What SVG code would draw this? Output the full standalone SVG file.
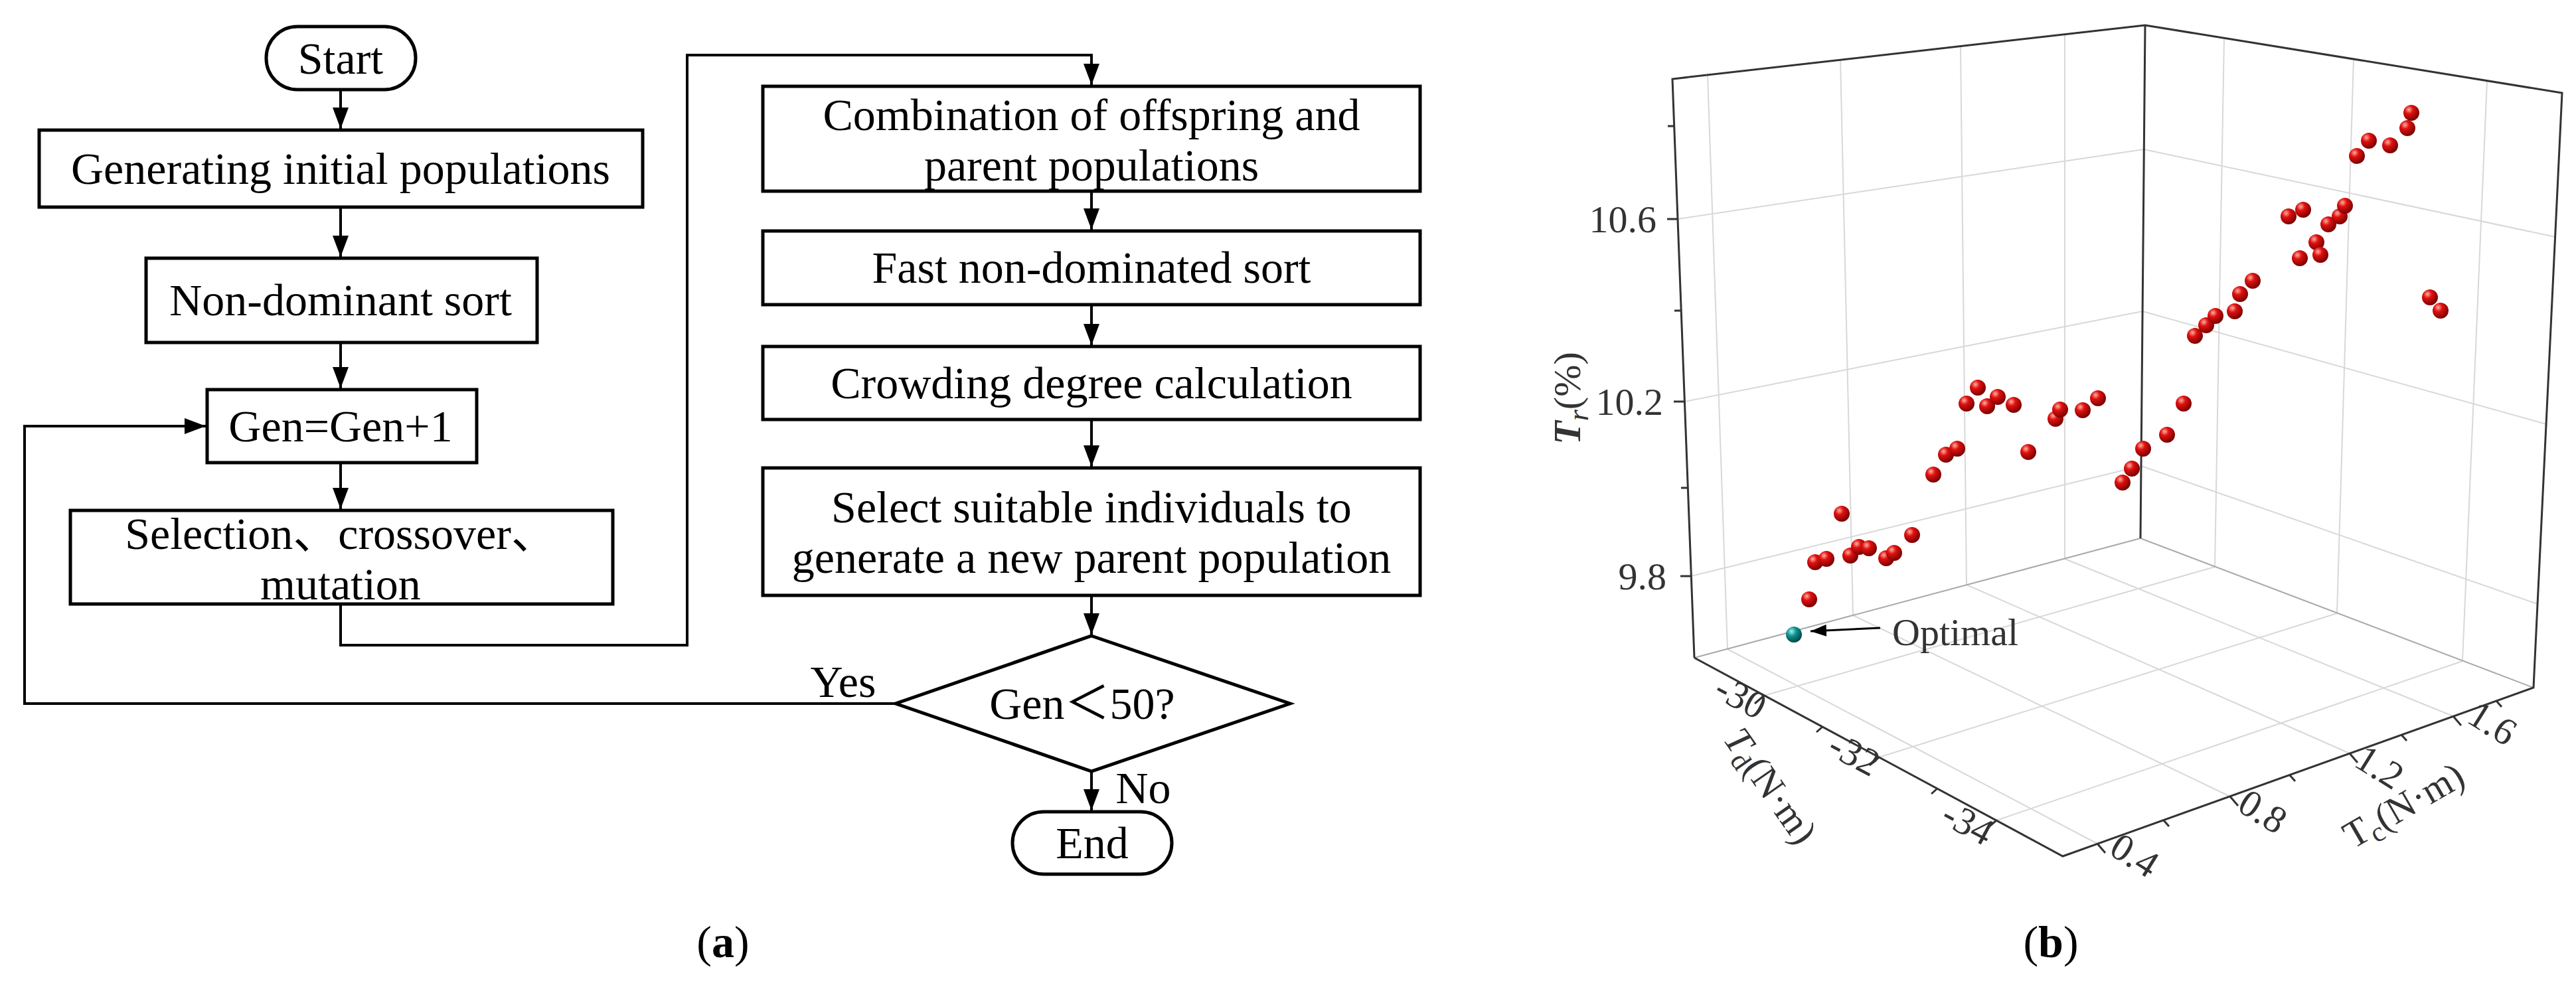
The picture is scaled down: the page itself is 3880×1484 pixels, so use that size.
<svg xmlns="http://www.w3.org/2000/svg" width="3880" height="1484" viewBox="0 0 3880 1484">
<defs>
<marker id="ah" markerWidth="8" markerHeight="6" refX="8" refY="3" orient="auto" markerUnits="strokeWidth">
<path d="M0,0 L8,3 L0,6 z" fill="#000"/>
</marker>
<radialGradient id="rs" cx="0.35" cy="0.3" r="0.75">
<stop offset="0" stop-color="#ffb0a0"/><stop offset="0.35" stop-color="#e01010"/><stop offset="1" stop-color="#700000"/>
</radialGradient>
<radialGradient id="ts" cx="0.35" cy="0.3" r="0.75">
<stop offset="0" stop-color="#a0f0f0"/><stop offset="0.4" stop-color="#109090"/><stop offset="1" stop-color="#004040"/>
</radialGradient>
</defs>
<style>
.b{fill:#fff;stroke:#000;stroke-width:5}
.t{font-family:"Liberation Serif","Noto Sans CJK SC",serif;font-size:68px;text-anchor:middle;fill:#000}
.c{fill:none;stroke:#000;stroke-width:4}
.g{fill:none;stroke:#d8d8d8;stroke-width:2}
.ax{fill:none;stroke:#333;stroke-width:3}
.tk{font-family:"Liberation Serif",serif;font-size:58px;fill:#333}
.r{fill:url(#rs)}
</style>
<rect width="3880" height="1484" fill="#fff"/>

<g id="start"><rect class="b" x="401" y="40" width="225" height="95" rx="47"/><text class="t" x="513" y="111">Start</text></g>
<g id="gen_init"><rect class="b" x="59" y="196" width="909" height="116"/><text class="t" x="513" y="277">Generating initial populations</text></g>
<g id="nondom"><rect class="b" x="220" y="389" width="589" height="127"/><text class="t" x="513" y="475">Non-dominant sort</text></g>
<g id="genplus"><rect class="b" x="312" y="587" width="406" height="110"/><text class="t" x="513" y="665">Gen=Gen+1</text></g>
<g id="selection"><rect class="b" x="106" y="769" width="817" height="141"/><text class="t" x="513" y="827">Selection、crossover、</text><text class="t" x="513" y="903">mutation</text></g>
<g id="combination"><rect class="b" x="1149" y="130" width="990" height="158"/><text class="t" x="1644" y="196">Combination of offspring and</text><text class="t" x="1644" y="272">parent populations</text></g>
<g id="fast"><rect class="b" x="1149" y="348" width="990" height="111"/><text class="t" x="1644" y="426">Fast non-dominated sort</text></g>
<g id="crowding"><rect class="b" x="1149" y="522" width="990" height="110"/><text class="t" x="1644" y="600">Crowding degree calculation</text></g>
<g id="select"><rect class="b" x="1149" y="705" width="990" height="192"/><text class="t" x="1644" y="787">Select suitable individuals to</text><text class="t" x="1644" y="863">generate a new parent population</text></g>
<g id="decision"><path class="b" d="M1644,958 L1943,1060 L1644,1162 L1349,1060 Z"/><text class="t" x="1630" y="1083">Gen＜50?</text></g>
<g id="end"><rect class="b" x="1525" y="1223" width="240" height="94" rx="47"/><text class="t" x="1645" y="1293">End</text></g>

<g id="connectors">
<path class="c" d="M513,135 V194" marker-end="url(#ah)"/>
<path class="c" d="M513,312 V387" marker-end="url(#ah)"/>
<path class="c" d="M513,516 V585" marker-end="url(#ah)"/>
<path class="c" d="M513,697 V767" marker-end="url(#ah)"/>
<path class="c" d="M513,910 V972 H1035 V83 H1644 V128" marker-end="url(#ah)"/>
<path class="c" d="M1644,288 V346" marker-end="url(#ah)"/>
<path class="c" d="M1644,459 V520" marker-end="url(#ah)"/>
<path class="c" d="M1644,632 V703" marker-end="url(#ah)"/>
<path class="c" d="M1644,897 V956" marker-end="url(#ah)"/>
<path class="c" d="M1644,1162 V1221" marker-end="url(#ah)"/>
<path class="c" d="M1349,1060 H37 V642 H310" marker-end="url(#ah)"/>
<text class="t" x="1270" y="1050">Yes</text>
<text class="t" x="1722" y="1210">No</text>
</g>

<text class="t" x="1089" y="1442">(<tspan font-weight="bold">a</tspan>)</text>
<text class="t" x="3089" y="1442">(<tspan font-weight="bold">b</tspan>)</text>

<g id="plot">
<g class="g">
<line x1="2602" y1="978" x2="2572" y2="113"/><line x1="2791" y1="927" x2="2772" y2="90"/><line x1="2962" y1="881" x2="2953" y2="70"/><line x1="3110" y1="842" x2="3110" y2="52"/>
<line x1="2547" y1="868" x2="3225" y2="702"/><line x1="2537" y1="605" x2="3227" y2="469"/><line x1="2527" y1="330" x2="3229" y2="225"/>
<line x1="3336" y1="854" x2="3350" y2="57"/><line x1="3520" y1="924" x2="3545" y2="89"/><line x1="3709" y1="996" x2="3746" y2="122"/>
<line x1="3225" y1="702" x2="3822" y2="910"/><line x1="3227" y1="469" x2="3835" y2="639"/><line x1="3229" y1="225" x2="3849" y2="357"/>
<line x1="2602" y1="978" x2="3159" y2="1271"/><line x1="2791" y1="927" x2="3359" y2="1200"/><line x1="2962" y1="881" x2="3539" y2="1135"/><line x1="3110" y1="842" x2="3695" y2="1079"/>
<line x1="2657" y1="1048" x2="3336" y2="854"/><line x1="2830" y1="1141" x2="3520" y2="924"/><line x1="3007" y1="1236" x2="3709" y2="996"/>
<line x1="2552" y1="991" x2="3224" y2="811" stroke="#aaa"/><line x1="3224" y1="811" x2="3816" y2="1036" stroke="#aaa"/>
</g>
<path class="ax" d="M2552,991 L2519,119 L3231,38 L3859,140 L3816,1036 L3107,1290 L2552,991"/>
<path class="ax" stroke="#666" stroke-width="2" d="M3231,38 L3224,811"/>
<g class="ax" stroke-width="3">
<path d="M2547,868 h-16 M2537,605 h-16 M2527,330 h-16 M2542,735 h-10 M2532,468 h-10 M2522,190 h-10"/>
<path d="M2657,1048 l-14,12 M2830,1141 l-14,12 M3007,1236 l-14,12 M2745,1095 l-9,8 M2918,1188 l-9,8"/>
<path d="M3159,1271 l12,14 M3359,1200 l12,14 M3539,1135 l12,14 M3695,1079 l12,14 M3259,1236 l8,9 M3449,1168 l8,9 M3617,1107 l8,9 M3760,1056 l8,9"/>
</g>
<text class="tk" x="2510" y="888" text-anchor="end">9.8</text>
<text class="tk" x="2505" y="625" text-anchor="end">10.2</text>
<text class="tk" x="2495" y="350" text-anchor="end">10.6</text>
<text class="tk" transform="translate(2613,1067) rotate(28)" text-anchor="middle">-30</text>
<text class="tk" transform="translate(2784,1153) rotate(28)" text-anchor="middle">-32</text>
<text class="tk" transform="translate(2955,1257) rotate(28)" text-anchor="middle">-34</text>
<text class="tk" transform="translate(3205,1305) rotate(32)" text-anchor="middle">0.4</text>
<text class="tk" transform="translate(3398,1239) rotate(32)" text-anchor="middle">0.8</text>
<text class="tk" transform="translate(3574,1172) rotate(32)" text-anchor="middle">1.2</text>
<text class="tk" transform="translate(3744,1106) rotate(32)" text-anchor="middle">1.6</text>
<text class="tk" font-size="68" transform="translate(2651,1195) rotate(55)" text-anchor="middle"><tspan font-style="italic">T</tspan><tspan font-size="42" dy="10">d</tspan><tspan dy="-10">(N·m)</tspan></text>
<text class="tk" font-size="68" transform="translate(3630,1230) rotate(-30)" text-anchor="middle">T<tspan font-size="42" dy="10">c</tspan><tspan dy="-10">(N·m)</tspan></text>
<text class="tk" font-size="70" fill="#222" transform="translate(2380,600) rotate(-90)" text-anchor="middle"><tspan font-weight="bold" font-style="italic">T</tspan><tspan font-size="44" dy="12" font-style="italic">r</tspan><tspan dy="-12">(%)</tspan></text>
<g id="points">
<circle class="r" cx="2725" cy="903" r="12"/><circle class="r" cx="2734" cy="847" r="12"/><circle class="r" cx="2751" cy="842" r="12"/><circle class="r" cx="2774" cy="774" r="12"/>
<circle class="r" cx="2787" cy="837" r="12"/><circle class="r" cx="2800" cy="824" r="12"/><circle class="r" cx="2815" cy="826" r="12"/><circle class="r" cx="2841" cy="841" r="12"/>
<circle class="r" cx="2853" cy="833" r="12"/><circle class="r" cx="2880" cy="806" r="12"/><circle class="r" cx="2912" cy="715" r="12"/><circle class="r" cx="2931" cy="685" r="12"/>
<circle class="r" cx="2948" cy="676" r="12"/><circle class="r" cx="2962" cy="608" r="12"/><circle class="r" cx="2979" cy="584" r="12"/><circle class="r" cx="2993" cy="612" r="12"/>
<circle class="r" cx="3009" cy="598" r="12"/><circle class="r" cx="3033" cy="610" r="12"/><circle class="r" cx="3055" cy="681" r="12"/><circle class="r" cx="3096" cy="631" r="12"/>
<circle class="r" cx="3103" cy="617" r="12"/><circle class="r" cx="3137" cy="618" r="12"/><circle class="r" cx="3160" cy="600" r="12"/><circle class="r" cx="3197" cy="727" r="12"/>
<circle class="r" cx="3211" cy="706" r="12"/><circle class="r" cx="3228" cy="676" r="12"/><circle class="r" cx="3264" cy="655" r="12"/><circle class="r" cx="3289" cy="608" r="12"/>
<circle class="r" cx="3306" cy="506" r="12"/><circle class="r" cx="3323" cy="490" r="12"/><circle class="r" cx="3337" cy="476" r="12"/><circle class="r" cx="3366" cy="469" r="12"/>
<circle class="r" cx="3374" cy="443" r="12"/><circle class="r" cx="3393" cy="423" r="12"/><circle class="r" cx="3447" cy="326" r="12"/><circle class="r" cx="3469" cy="316" r="12"/>
<circle class="r" cx="3464" cy="389" r="12"/><circle class="r" cx="3489" cy="365" r="12"/><circle class="r" cx="3495" cy="384" r="12"/><circle class="r" cx="3507" cy="338" r="12"/>
<circle class="r" cx="3524" cy="326" r="12"/><circle class="r" cx="3532" cy="310" r="12"/><circle class="r" cx="3550" cy="235" r="12"/><circle class="r" cx="3568" cy="212" r="12"/>
<circle class="r" cx="3600" cy="219" r="12"/><circle class="r" cx="3626" cy="193" r="12"/><circle class="r" cx="3632" cy="170" r="12"/><circle class="r" cx="3660" cy="448" r="12"/>
<circle class="r" cx="3676" cy="468" r="12"/>
</g>
<circle cx="2702" cy="956" r="12" fill="url(#ts)"/>
<path d="M2832,946 L2727,951" stroke="#000" stroke-width="3" fill="none" marker-end="url(#ah)"/>
<text class="tk" font-size="78" fill="#000" x="2850" y="972">Optimal</text>
</g>
</svg>
